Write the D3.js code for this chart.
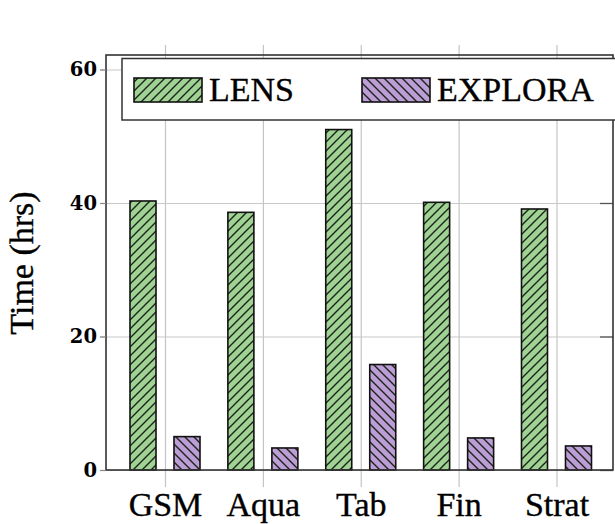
<!DOCTYPE html>
<html>
<head>
<meta charset="utf-8">
<script src="https://cdn.jsdelivr.net/npm/d3@7/dist/d3.min.js"></script>
<style>
  html, body { margin: 0; padding: 0; background: #fff; }
  svg { display: block; }
</style>
</head>
<body>
<svg id="chart" width="615" height="524"></svg>
<script>
const categories = ["GSM", "Aqua", "Tab", "Fin", "Strat"];
const seriesNames = ["LENS", "EXPLORA"];
const lensValues = [40.3, 38.6, 51.0, 40.1, 39.1];
const exploraValues = [5.0, 3.3, 15.8, 4.8, 3.6];
const yTicks = [0, 20, 40, 60];
const yLabel = "Time (hrs)";

(function () {
const svg = d3.select("#chart");
const mLeft = 106, mRight = 613, mTop = 55, mBottom = 470;

const x = d3.scalePoint().domain(categories).range([165, 556.5]);
const xSub = d3.scaleBand().domain(seriesNames).range([-35, 35]).paddingInner(0.409);
const y = d3.scaleLinear().domain([0, 62.17]).range([mBottom, mTop]);

const colors = { LENS: "#a0d294", EXPLORA: "#bd9dd5" };

// hatch patterns
const defs = svg.append("defs");
function hatch(id, fill, dir) {
  const s = 9;
  const p = defs.append("pattern").attr("id", id).attr("patternUnits", "userSpaceOnUse")
    .attr("width", s).attr("height", s);
  p.append("rect").attr("width", s).attr("height", s).attr("fill", fill);
  const d = dir > 0
    ? `M0,${s} L${s},0 M${-s/2},${s/2} L${s/2},${-s/2} M${s/2},${s*1.5} L${s*1.5},${s/2}`
    : `M0,0 L${s},${s} M${-s/2},${s/2} L${s/2},${s*1.5} M${s/2},${-s/2} L${s*1.5},${s/2}`;
  p.append("path").attr("d", d).attr("stroke", "#1a241a").attr("stroke-width", 1.4);
}
hatch("hLENS", colors.LENS, 1);
hatch("hEXPLORA", colors.EXPLORA, -1);

// vertical grid (category ticks extending outside)
const xGrid = d3.axisBottom(x).tickSize(-(487 - 45)).tickFormat("");
svg.append("g").attr("transform", `translate(0,487)`).call(xGrid)
  .call(g => g.select(".domain").remove())
  .call(g => g.selectAll("line").attr("stroke", "#c4c4c4").attr("stroke-width", 1.2));

// horizontal grid
const yGrid = d3.axisLeft(y).tickValues(yTicks).tickSize(-(mRight - 100)).tickFormat("");
svg.append("g").attr("transform", `translate(100,0)`).call(yGrid)
  .call(g => g.select(".domain").remove())
  .call(g => g.selectAll("line").attr("stroke", "#c8c8c8").attr("stroke-width", 1.2));

// right inner ticks
const yRight = d3.axisRight(y).tickValues(yTicks).tickSize(-13).tickFormat("");
svg.append("g").attr("transform", `translate(${mRight},0)`).call(yRight)
  .call(g => g.select(".domain").remove())
  .call(g => g.selectAll("line").attr("stroke", "#555").attr("stroke-width", 1.3));

// bars
const data = [];
categories.forEach((c, i) => {
  data.push({ cat: c, s: "LENS", v: lensValues[i] });
  data.push({ cat: c, s: "EXPLORA", v: exploraValues[i] });
});
svg.append("g").selectAll("rect").data(data).join("rect")
  .attr("x", d => x(d.cat) + xSub(d.s))
  .attr("width", xSub.bandwidth())
  .attr("y", d => y(d.v))
  .attr("height", d => y(0) - y(d.v))
  .attr("fill", d => `url(#h${d.s})`)
  .attr("stroke", "#111").attr("stroke-width", 1.6);

// frame
svg.append("rect").attr("x", mLeft).attr("y", mTop).attr("width", mRight - mLeft).attr("height", mBottom - mTop)
  .attr("fill", "none").attr("stroke", "#333").attr("stroke-width", 1.6);

// left axis ticks + labels
const yAxis = d3.axisLeft(y).tickValues(yTicks).tickSize(6).tickPadding(3).tickFormat(d3.format("d"));
svg.append("g").attr("transform", `translate(${mLeft},0)`).call(yAxis)
  .call(g => g.select(".domain").remove())
  .call(g => g.selectAll("line").attr("stroke", "#888").attr("stroke-width", 1.2))
  .call(g => g.selectAll("text").attr("font-family", "DejaVu Serif").attr("font-weight", "bold")
    .attr("font-size", 19.5).attr("fill", "#000"));

// x axis labels
const xAxis = d3.axisBottom(x).tickSize(0).tickPadding(0);
svg.append("g").attr("transform", `translate(0,${mBottom})`).call(xAxis)
  .call(g => g.select(".domain").remove())
  .call(g => g.selectAll("text").attr("font-family", "Liberation Serif").attr("font-size", 34)
    .attr("fill", "#000").attr("stroke", "#000").attr("stroke-width", 0.35)
    .attr("y", 46).attr("dy", 0));

// y label
svg.append("text").attr("transform", `translate(33,263) rotate(-90)`)
  .attr("text-anchor", "middle").attr("font-family", "Liberation Serif").attr("font-size", 34)
  .attr("fill", "#000").attr("stroke", "#000").attr("stroke-width", 0.35).text(yLabel);

// legend
const lg = svg.append("g");
lg.append("rect").attr("x", 122).attr("y", 58.5).attr("width", 520).attr("height", 61.5)
  .attr("fill", "#fff").attr("stroke", "#333").attr("stroke-width", 1.5);
const legendPos = [{ s: "LENS", x: 134 }, { s: "EXPLORA", x: 362 }];
legendPos.forEach(l => {
  lg.append("rect").attr("x", l.x).attr("y", 78).attr("width", 68).attr("height", 24)
    .attr("fill", `url(#h${l.s})`).attr("stroke", "#111").attr("stroke-width", 1.6);
  lg.append("text").attr("x", l.x + 75).attr("y", 101).attr("font-family", "Liberation Serif")
    .attr("font-size", 34).attr("fill", "#000").attr("stroke", "#000").attr("stroke-width", 0.35)
    .text(l.s);
});
})();
</script>
</body>
</html>
